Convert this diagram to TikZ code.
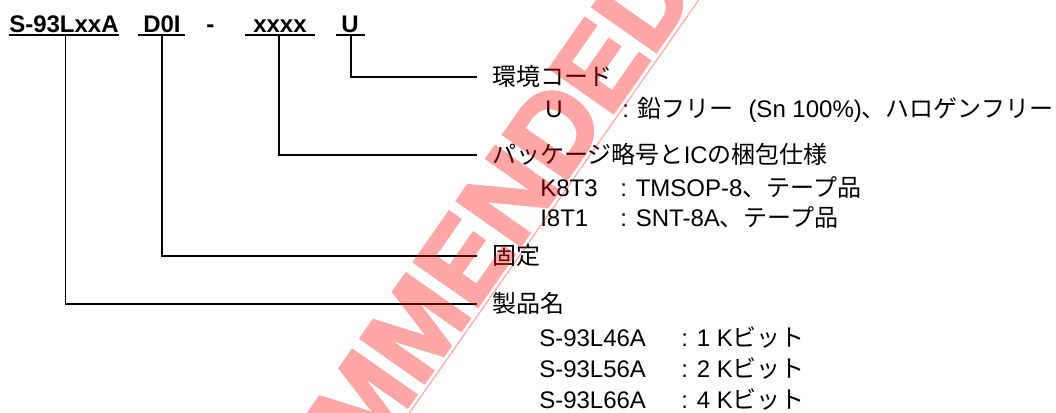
\documentclass[tikz,border=0pt]{standalone}
\usepackage{fontspec}
\setmainfont{Liberation Sans}
\newfontfamily\jp{Noto Sans CJK JP}
\newfontfamily\wmfont[FakeBold=3]{Liberation Sans Bold}
\usetikzlibrary{calc}
\begin{document}
\begin{tikzpicture}[x=0.75pt,y=-0.75pt,
  every node/.style={inner sep=0pt, font=\fontsize{18pt}{22pt}\selectfont},
  hdr/.style={anchor=base west, font=\fontsize{18pt}{22pt}\selectfont\bfseries},
  lab/.style={anchor=west, text height=14pt, text depth=2pt, font=\fontsize{18pt}{22pt}\selectfont\jp},
  item/.style={anchor=base west},
  conn/.style={line width=0.9pt},
  ul/.style={line width=1.4pt},
  wm/.style={anchor=base west, font=\wmfont\fontsize{84pt}{85pt}\selectfont, text=red},
  wmline/.style={draw=red, line width=0.9pt}
]
\useasboundingbox (0,0) rectangle (1056,412);

% header
\node[hdr] (hS) at (9,32) {S-93LxxA};
\node[hdr] (hD) at (143,32) {D0I};
\node[hdr] (hM) at (206,32) {-};
\node[hdr] (hX) at (253,32) {xxxx};
\node[hdr] (hU) at (341,32) {U};

\draw[ul] ($(hS.base west)+(0,3)$) -- ($(hS.base east)+(0,3)$);
\draw[ul] ($(hD.base west)+(-5,3)$) -- ($(hD.base east)+(4,3)$);
\draw[ul] ($(hX.base west)+(-8,3)$) -- ($(hX.base east)+(8,3)$);
\draw[ul] ($(hU.base west)+(-5,3)$) -- ($(hU.base east)+(6,3)$);

% labels
\node[lab] (lU) at (492,77) {環境コード};
\node[lab] (lX) at (492,155) {パッケージ略号と{\normalfont IC}の梱包仕様};
\node[lab] (lD) at (492,256) {固定};
\node[lab] (lS) at (492,304) {製品名};

% connectors
\draw[conn] ($(hU.base)+(1,3)$) |- ($(lU.west)+(-15,0)$);
\draw[conn] ($(hX.base)+(-1,3)$) |- ($(lX.west)+(-15,0)$);
\draw[conn] ($(hD.base)+(0,3)$) |- ($(lD.west)+(-15,0)$);
\draw[conn] ($(hS.base)+(1.5,3)$) |- ($(lS.west)+(-15,0)$);

% items
\node[item] (u1k) at (545,117) {U};
\node[item] (u1v) at (622,117) {: {\jp 鉛フリー}\hspace{6pt} (Sn 100\%){\jp 、ハロゲンフリー}};
\node[item] (p1k) at (540,196) {K8T3};
\node[item] (p1v) at (620,196) {: TMSOP-8{\jp 、テープ品}};
\node[item] (p2k) at (540,226) {I8T1};
\node[item] (p2v) at (620,226) {: SNT-8A{\jp 、テープ品}};
\node[item] (s1k) at (539,346) {S-93L46A};
\node[item] (s1v) at (681,346) {: 1 K{\jp ビット}};
\node[item] (s2k) at (539,377) {S-93L56A};
\node[item] (s2v) at (681,377) {: 2 K{\jp ビット}};
\node[item] (s3k) at (539,408) {S-93L66A};
\node[item] (s3v) at (681,408) {: 4 K{\jp ビット}};

% watermark
\begin{scope}
\clip (0,0) rectangle (1056,412);
\begin{scope}[transparency group, opacity=0.35]
\node[wm, rotate=55] (wmt) at (180.7,730.4) {RECOMMENDED};
\coordinate (wa) at (295.2,575.8);
\coordinate (wb) at (811.8,-161.3);
\draw[wmline] (wa) -- (wb);
\end{scope}
\end{scope}
\end{tikzpicture}
\end{document}
